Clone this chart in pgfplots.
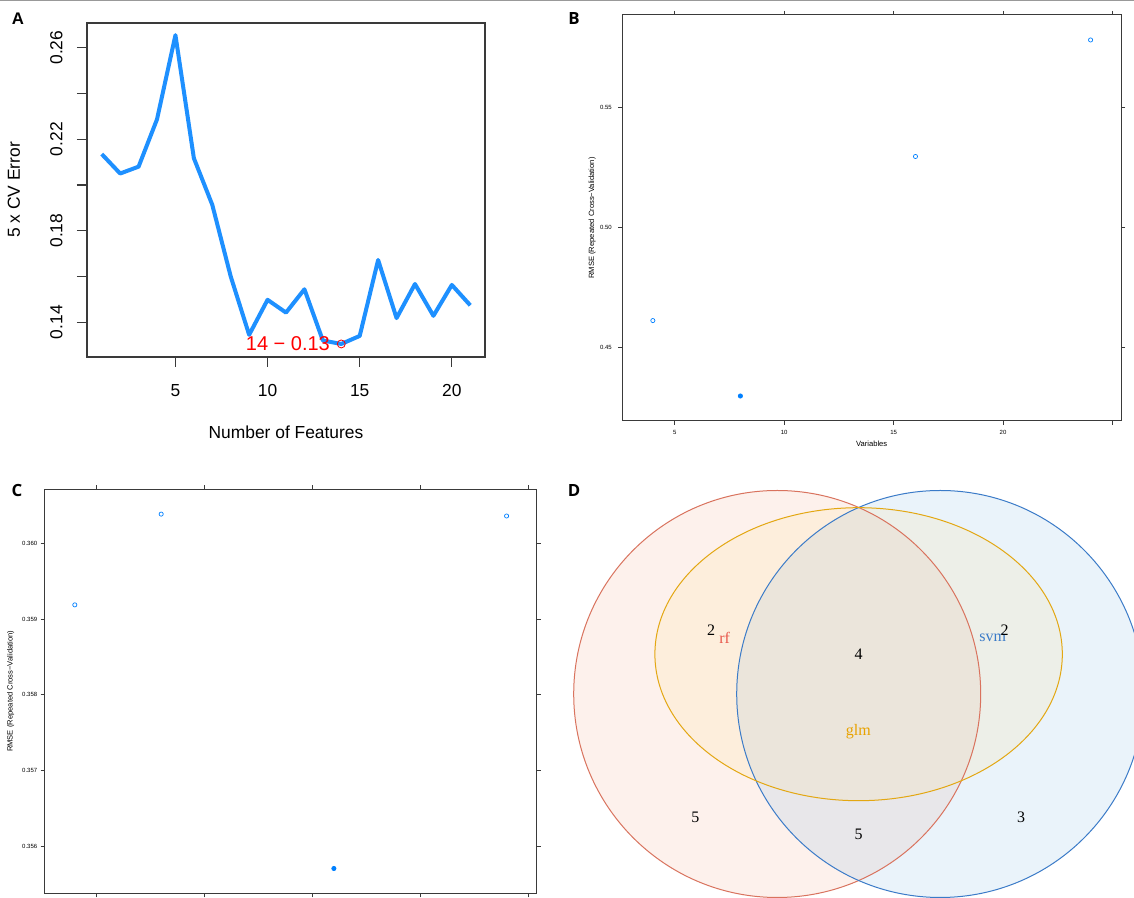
\documentclass[border=0pt]{standalone}
\usepackage{fontspec}
\setmainfont{Liberation Sans}
\newfontfamily\vennfont{Liberation Serif}
\newfontfamily\tagfont{Open Sans}
\usepackage{pgfplots}
\usepackage{pgfplotstable}
\pgfplotsset{compat=1.18}

\definecolor{cvblue}{HTML}{1E90FF}
\definecolor{latblue}{HTML}{0080FF}
\definecolor{framegray}{HTML}{3A3A3A}
\definecolor{rffill}{HTML}{F4A582}
\definecolor{rfline}{HTML}{D9735E}
\definecolor{rftext}{HTML}{E8564A}
\definecolor{svmfill}{HTML}{73AFE4}
\definecolor{svmline}{HTML}{3B7BC8}
\definecolor{glmfill}{HTML}{FFDE87}
\definecolor{glmline}{HTML}{E3A712}
\definecolor{glmtext}{HTML}{E8A200}

% 5-fold CV error against the number of features
\pgfplotstableread{
n err
1 0.2135
2 0.2050
3 0.2080
4 0.2287
5 0.2655
6 0.2117
7 0.1913
8 0.1600
9 0.1345
10 0.1498
11 0.1442
12 0.1544
13 0.1320
14 0.1305
15 0.1340
16 0.1672
17 0.1418
18 0.1567
19 0.1428
20 0.1563
21 0.1474
}\cverr

% Venn region counts (positions in pt inside panel D)
\pgfplotstableread{
x y lab
75.5 134 2
149.35 121.85 4
222.35 134 2
67.7 40.15 5
149.35 31.85 5
230.6 40.15 3
}\venncounts

\pgfplotsset{
  latticebox/.style={
    scale only axis, anchor=south west,
    xmin=2.6, xmax=25.4,
    xtick={5,10,15,20,25},
    tick align=outside, major tick length=2pt, tick pos=both,
    axis line style={framegray, line width=0.5pt},
    tick style={framegray, line width=0.4pt},
    tick label style={font=\fontsize{3}{3.6}\selectfont, inner sep=0pt},
    label style={font=\fontsize{3.8}{4.5}\selectfont},
    /pgf/number format/assume math mode=true,
  },
}

\begin{document}
\begin{tikzpicture}
\useasboundingbox (0,0) rectangle (567pt,449pt);
\fill[white] (0,0) rectangle (567pt,449pt);
\draw[black!40, line width=0.6pt] (0,448.7pt) -- (567pt,448.7pt);

% ---------------- A ----------------
\begin{axis}[
  at={(43.5pt,270.5pt)}, anchor=south west,
  scale only axis, width=199pt, height=167pt,
  xmin=0.2, xmax=21.8, ymin=0.1248, ymax=0.2708,
  xtick={5,10,15,20}, xticklabels={5,10,15,20},
  ytick={0.14,0.16,0.18,0.20,0.22,0.24,0.26},
  yticklabels={0.14,,0.18,,0.22,,0.26},
  xtick pos=left, ytick pos=left,
  tick align=outside, major tick length=5pt,
  axis line style={framegray, line width=0.6pt},
  tick style={framegray, line width=0.6pt},
  tick label style={font=\fontsize{8.7}{10}\selectfont, inner sep=0pt},
  xticklabel style={anchor=north, yshift=-8.5pt},
  yticklabel style={rotate=90, anchor=south, yshift=7pt},
  label style={font=\fontsize{8.7}{10}\selectfont},
  xlabel={Number of Features},
  ylabel={5 x CV Error},
  xlabel style={at={(axis description cs:0.5,-0.2246)}, anchor=center},
  ylabel style={at={(axis description cs:-0.1834,0.5)}, anchor=center, rotate=0},
  /pgf/number format/assume math mode=true,
]
\addplot[cvblue, line width=2pt, line join=round] table[x=n, y=err] {\cverr};
\addplot[red, only marks, mark=o, mark size=2pt, mark options={line width=0.4pt},
  nodes near coords, point meta=explicit symbolic,
  nodes near coords style={anchor=east, inner sep=0pt, xshift=-5.5pt,
    font=\fontsize{10}{12}\selectfont, text=red}]
  coordinates {(14,0.1305) [14 − 0.13]};
\end{axis}

% ---------------- B ----------------
\begin{axis}[
  latticebox,
  at={(311.1pt,238.5pt)}, width=249.5pt, height=203pt,
  ymin=0.4194, ymax=0.5884,
  xticklabels={5,10,15,20,{}},
  ytick={0.45,0.50,0.55}, yticklabels={0.45,0.50,0.55},
  xticklabel style={anchor=north, yshift=-2.5pt},
  yticklabel style={anchor=east, xshift=-3pt},
  xlabel={Variables},
  ylabel={RMSE (Repeated Cross−Validation)},
  xlabel style={at={(axis description cs:0.5,-0.0567)}, anchor=center},
  ylabel style={at={(axis description cs:-0.0601,0.5)}, anchor=center},
]
\addplot[latblue, only marks, mark=o, mark size=1.05pt, mark options={line width=0.35pt}]
  coordinates {(4,0.4612) (16,0.5295) (24,0.5780)};
\addplot[latblue, only marks, mark=*, mark size=1.05pt]
  coordinates {(8,0.4298)};
\end{axis}

% ---------------- C ----------------
\begin{axis}[
  latticebox,
  at={(22.3pt,2.35pt)}, width=246.1pt, height=202pt,
  ymin=0.355377, ymax=0.360718,
  xticklabels={},
  ytick={0.356,0.357,0.358,0.359,0.360},
  yticklabels={0.356,0.357,0.358,0.359,0.360},
  yticklabel style={anchor=east, xshift=-1.5pt},
  ylabel={RMSE (Repeated Cross−Validation)},
  ylabel style={at={(axis description cs:-0.0689,0.5)}, anchor=center},
]
\addplot[latblue, only marks, mark=o, mark size=1.05pt, mark options={line width=0.35pt}]
  coordinates {(4,0.35919) (8,0.36039) (24,0.360365)};
\addplot[latblue, only marks, mark=*, mark size=1.05pt]
  coordinates {(16,0.355705)};
\end{axis}

% ---------------- D ----------------
\begin{axis}[
  at={(280pt,0pt)}, anchor=south west,
  scale only axis, width=287pt, height=214pt,
  xmin=0, xmax=287, ymin=0, ymax=214,
  hide axis, clip=true,
]
\fill[rffill, fill opacity=0.15] (axis cs:108.6,102) circle [radius=101.75];
\fill[svmfill, fill opacity=0.15] (axis cs:190.1,102) circle [radius=101.75];
\fill[glmfill, fill opacity=0.15] (axis cs:149.3,121.9) ellipse [x radius=101.85, y radius=73.25];
\draw[rfline, line width=0.5pt] (axis cs:108.6,102) circle [radius=101.75];
\draw[svmline, line width=0.5pt] (axis cs:190.1,102) circle [radius=101.75];
\draw[glmline, line width=0.5pt] (axis cs:149.3,121.9) ellipse [x radius=101.85, y radius=73.25];
\addplot[only marks, mark=none, nodes near coords, point meta=explicit symbolic,
  nodes near coords style={anchor=center, inner sep=0pt, text=black,
    font=\vennfont\fontsize{8}{9.6}\selectfont}]
  table[x=x, y=y, meta=lab] {\venncounts};
\node[text=rftext, font=\vennfont\fontsize{8}{9.6}\selectfont, inner sep=0pt] at (axis cs:82.35,130.15) {rf};
\node[text=svmline, font=\vennfont\fontsize{8}{9.6}\selectfont, inner sep=0pt] at (axis cs:216.3,129.85) {svm};
\node[text=glmtext, font=\vennfont\fontsize{8}{9.6}\selectfont, inner sep=0pt] at (axis cs:149.15,83.15) {glm};
\end{axis}

% panel tags
\node[font=\fontsize{8.4}{10}\selectfont\bfseries, inner sep=0pt] at (9pt,439.5pt) {A};
\node[font=\tagfont\fontsize{8.4}{10}\selectfont\bfseries, inner sep=0pt] at (287pt,439.5pt) {B};
\node[font=\tagfont\fontsize{8.4}{10}\selectfont\bfseries, inner sep=0pt] at (8.5pt,203.5pt) {C};
\node[font=\tagfont\fontsize{8.4}{10}\selectfont\bfseries, inner sep=0pt] at (287pt,203.5pt) {D};
\end{tikzpicture}
\end{document}
